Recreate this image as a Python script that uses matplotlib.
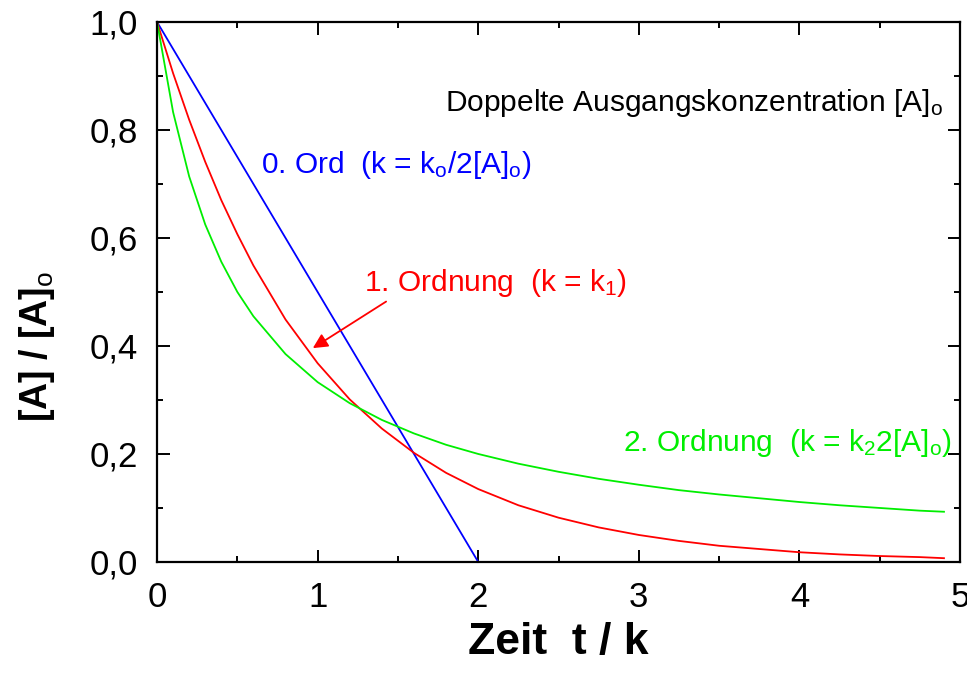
import matplotlib
matplotlib.use("Agg")
import matplotlib.pyplot as plt
from matplotlib.ticker import MultipleLocator, FuncFormatter

# ── Data ──────────────────────────────────────────────────────
t_zero = [0.0, 0.5, 1.0, 1.5, 2.0]
a_zero = [1.0, 0.75, 0.5, 0.25, 0.0]

t_curve = [0.0, 0.1, 0.2, 0.3, 0.4, 0.5, 0.6, 0.8, 1.0, 1.2, 1.4, 1.6, 1.8, 2.0,
           2.25, 2.5, 2.75, 3.0, 3.25, 3.5, 3.75, 4.0, 4.25, 4.5, 4.75, 4.9]
a_first = [1.0, 0.905, 0.819, 0.741, 0.670, 0.607, 0.549, 0.449, 0.368, 0.301,
           0.247, 0.202, 0.165, 0.135, 0.105, 0.082, 0.064, 0.050, 0.039, 0.030,
           0.024, 0.018, 0.014, 0.011, 0.009, 0.007]
a_second = [1.0, 0.833, 0.714, 0.625, 0.556, 0.500, 0.455, 0.385, 0.333, 0.294,
            0.263, 0.238, 0.217, 0.200, 0.182, 0.167, 0.154, 0.143, 0.133, 0.125,
            0.118, 0.111, 0.105, 0.100, 0.095, 0.093]

x_ticks = [0, 1, 2, 3, 4, 5]
y_ticks = [0.0, 0.2, 0.4, 0.6, 0.8, 1.0]

BLUE = "#0000ff"
RED = "#ff0000"
GREEN = "#00ee00"

plt.rcParams.update({
    "font.family": ["Liberation Sans", "DejaVu Sans"],
    "mathtext.fontset": "custom",
    "mathtext.rm": "Liberation Sans",
    "mathtext.it": "Liberation Sans:italic",
    "mathtext.bf": "Liberation Sans:bold",
})

fig = plt.figure(figsize=(9.67, 6.82), dpi=100)
ax = fig.add_axes([0.1624, 0.1760, 0.8304, 0.7918])

ax.plot(t_zero, a_zero, color=BLUE, lw=1.3, clip_on=False)
ax.plot(t_curve, a_first, color=RED, lw=1.3, clip_on=False)
ax.plot(t_curve, a_second, color=GREEN, lw=1.3, clip_on=False)

ax.set_xlim(0, 5)
ax.set_ylim(0, 1)
ax.set_xticks(x_ticks)
ax.set_yticks(y_ticks)
ax.xaxis.set_minor_locator(MultipleLocator(0.5))
ax.yaxis.set_minor_locator(MultipleLocator(0.1))
ax.yaxis.set_major_formatter(FuncFormatter(lambda v, p: f"{v:.1f}".replace(".", ",")))
ax.xaxis.set_major_formatter(FuncFormatter(lambda v, p: f"{v:.0f}"))

ax.tick_params(which="both", direction="in", top=True, right=True, width=1.4,
               labelsize=25, colors="black")
ax.tick_params(which="major", length=9)
ax.tick_params(which="minor", length=4)
ax.tick_params(axis="x", pad=14)
ax.tick_params(axis="y", pad=14)
for s in ax.spines.values():
    s.set_linewidth(1.6)

ax.set_xlabel("Zeit  t / k", fontsize=32, fontweight="bold")
ax.xaxis.set_label_coords(0.5, -0.112)
ax.set_ylabel(r"[A] / [A]$_\mathrm{o}$", fontsize=27, fontweight="bold")
ax.yaxis.set_label_coords(-0.125, 0.40)

# annotations
ann_font = dict(family="Liberation Sans", fontsize=21.5)
ax.text(1.79, 0.85, r"Doppelte Ausgangskonzentration [A]$_\mathrm{o}$",
        color="black", va="center", ha="left", **ann_font)
ax.text(0.65, 0.735, r"0. Ord  (k = k$_\mathrm{o}$/2[A]$_\mathrm{o}$)",
        color=BLUE, va="center", ha="left", **ann_font)
ax.text(2.9, 0.22, r"2. Ordnung  (k = k$_2$2[A]$_\mathrm{o}$)",
        color=GREEN, va="center", ha="left", **ann_font)
ax.annotate(r"1. Ordnung  (k = k$_1$)", xy=(0.97, 0.396), xytext=(1.29, 0.517),
            color=RED, va="center", ha="left", **ann_font,
            arrowprops=dict(arrowstyle="-|>", color=RED, lw=1.3,
                            mutation_scale=22, shrinkA=0, shrinkB=0,
                            relpos=(0.1, 0.0)))

fig.savefig("out.png", dpi=100)
